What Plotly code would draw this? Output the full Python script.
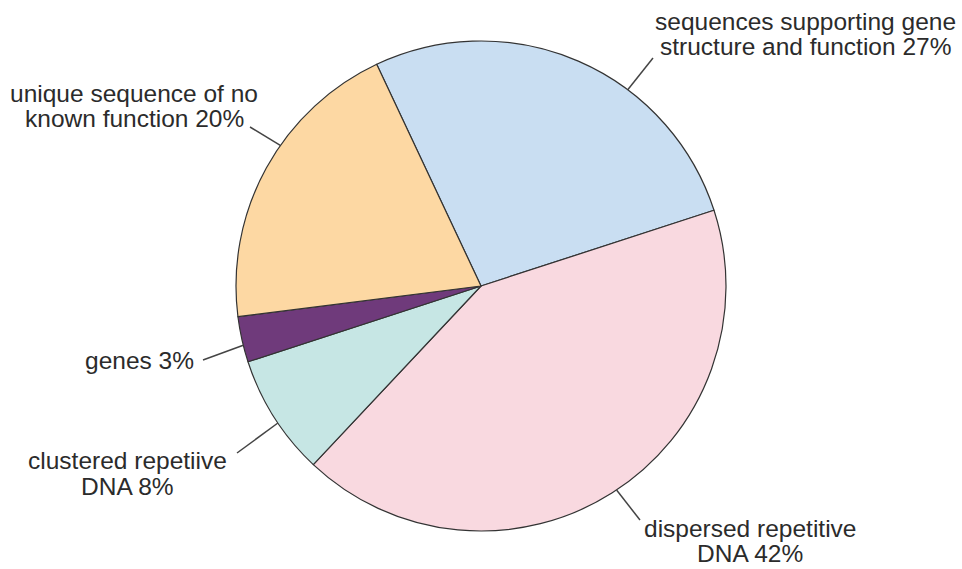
import math
import plotly.graph_objects as go

# Genome composition, listed clockwise from the top of the pie
categories = [
    "sequences supporting gene structure and function",
    "dispersed repetitive DNA",
    "clustered repetiive DNA",
    "genes",
    "unique sequence of no known function",
]
percent = [27, 42, 8, 3, 20]
label_lines = [
    ["sequences supporting gene", "structure and function {}%"],
    ["dispersed repetitive", "DNA {}%"],
    ["clustered repetiive", "DNA {}%"],
    ["genes {}%"],
    ["unique sequence of no", "known function {}%"],
]
colors = ["#c9def2", "#f9d9e0", "#c6e6e4", "#6f3a7b", "#fdd8a3"]

W, H = 962, 569
CX, CY, R = 481, 286, 245          # pie centre and radius in pixels
ROTATION = -25.2                   # start angle of the first slice

# label centre x and the middle y of each text line (px)
label_x = [805, 750, 127, 139, 134]
label_line_y = [[22, 47], [528, 553], [460, 486], [360], [93, 118]]
# where each leader line starts and the angle at which it meets the rim
leader_start = [(653, 58), (640, 520), (237, 453), (203, 360), (250, 127)]
leader_angle = [36.8, 146.4, 236.0, 256.0, 305.0]

def px(x):
    return x / W

def py(y):
    return 1 - y / H

fig = go.Figure(
    go.Pie(
        labels=categories,
        values=percent,
        sort=False,
        direction="clockwise",
        rotation=ROTATION,
        textinfo="none",
        hoverinfo="label+percent",
        marker=dict(colors=colors, line=dict(color="#333333", width=1.2)),
        domain=dict(x=[px(CX - R), px(CX + R)], y=[py(CY + R), py(CY - R)]),
        showlegend=False,
    )
)

font = dict(family="Liberation Sans, Arial, sans-serif", size=24.5, color="#2b2b2b")
shapes = []
annotations = []
for lines, value, lx, ys, (sx, sy), ang in zip(
        label_lines, percent, label_x, label_line_y, leader_start, leader_angle):
    a = math.radians(ang)
    ex, ey = CX + R * math.sin(a), CY - R * math.cos(a)
    shapes.append(dict(type="line", xref="paper", yref="paper",
                       x0=px(sx), y0=py(sy), x1=px(ex), y1=py(ey),
                       line=dict(color="#444444", width=1.5)))
    for line, ly in zip(lines, ys):
        annotations.append(dict(text=line.format(value), xref="paper", yref="paper",
                                x=px(lx), y=py(ly), xanchor="center", yanchor="middle",
                                showarrow=False, font=font))

fig.update_layout(
    width=W, height=H,
    margin=dict(l=0, r=0, t=0, b=0),
    paper_bgcolor="white",
    plot_bgcolor="white",
    shapes=shapes,
    annotations=annotations,
)

fig.write_html("out.html")
